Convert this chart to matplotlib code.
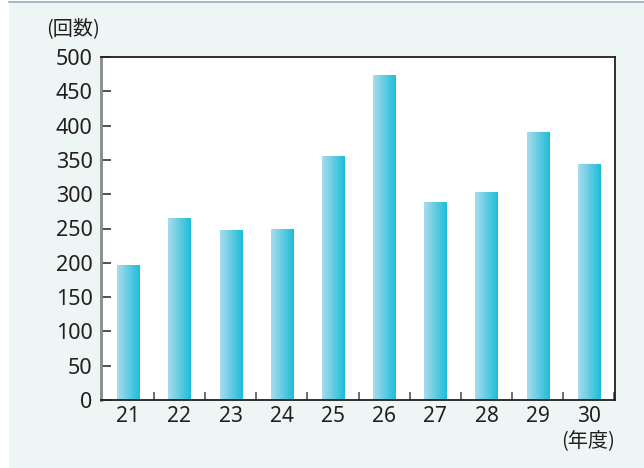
import numpy as np
import matplotlib.pyplot as plt
from matplotlib.patches import Rectangle
from matplotlib.colors import LinearSegmentedColormap

plt.rcParams['font.family'] = ['Noto Sans', 'Noto Sans CJK JP', 'DejaVu Sans']

# 年度と回数
years = ['21', '22', '23', '24', '25', '26', '27', '28', '29', '30']
counts = [197, 265, 248, 249, 356, 474, 289, 303, 391, 344]

fig = plt.figure(figsize=(6.44, 4.68), dpi=100)
fig.patch.set_facecolor('white')
# 背景パネル
fig.patches.append(Rectangle((9 / 644, 0), 1, 1 - 3 / 468, transform=fig.transFigure,
                             facecolor='#edf6f5', edgecolor='none', zorder=-2))
fig.add_artist(plt.Line2D([9 / 644, 1], [1 - 2 / 468, 1 - 2 / 468], transform=fig.transFigure,
                          color='#8fb0bd', lw=1.2))

ax = fig.add_axes([101 / 644, 1 - 400 / 468, 514 / 644, 343 / 468])
ax.set_facecolor('white')

x = np.arange(len(years))
bars = ax.bar(x, counts, width=0.43, color='none', edgecolor='none')

# 横方向グラデーション
cmap = LinearSegmentedColormap.from_list('bar', ['#a8dced', '#1dbdd9'])
grad = np.linspace(0, 1, 100).reshape(1, -1)
for b in bars:
    bx, bw, bh = b.get_x(), b.get_width(), b.get_height()
    im = ax.imshow(grad, cmap=cmap, extent=[bx, bx + bw, 0, bh], aspect='auto',
                   interpolation='bicubic', zorder=2)
    im.set_clip_path(b)

ax.set_xlim(-0.53, 9.51)
ax.set_ylim(0, 500)
ax.set_yticks(range(0, 501, 50))

ax.set_xticks(x + 0.5)
ax.set_xticklabels([])
ax.set_xticks(x, minor=True)
ax.set_xticklabels(years, minor=True)
ax.tick_params(axis='x', which='major', direction='in', length=6, width=1.2, color='#555555')
ax.tick_params(axis='x', which='minor', length=0, pad=4, labelsize=15, labelcolor='#231f20')
ax.tick_params(axis='y', direction='in', length=7, width=1.2, color='#333333',
               pad=6, labelsize=15.5, labelcolor='#231f20')

for s in ['top', 'right', 'bottom']:
    ax.spines[s].set_color('#231f20')
    ax.spines[s].set_linewidth(1.3)
ax.spines['left'].set_color('#8a8a8a')
ax.spines['left'].set_linewidth(2)

fig.text(73 / 644, 1 - 29 / 468, '(回数)', ha='center', va='center', fontsize=14.5,
         color='#231f20', family=['Noto Sans CJK JP'])
fig.text(588 / 644, 1 - 441 / 468, '(年度)', ha='center', va='center', fontsize=14.5,
         color='#231f20', family=['Noto Sans CJK JP'])

fig.savefig('out.png', dpi=100)
